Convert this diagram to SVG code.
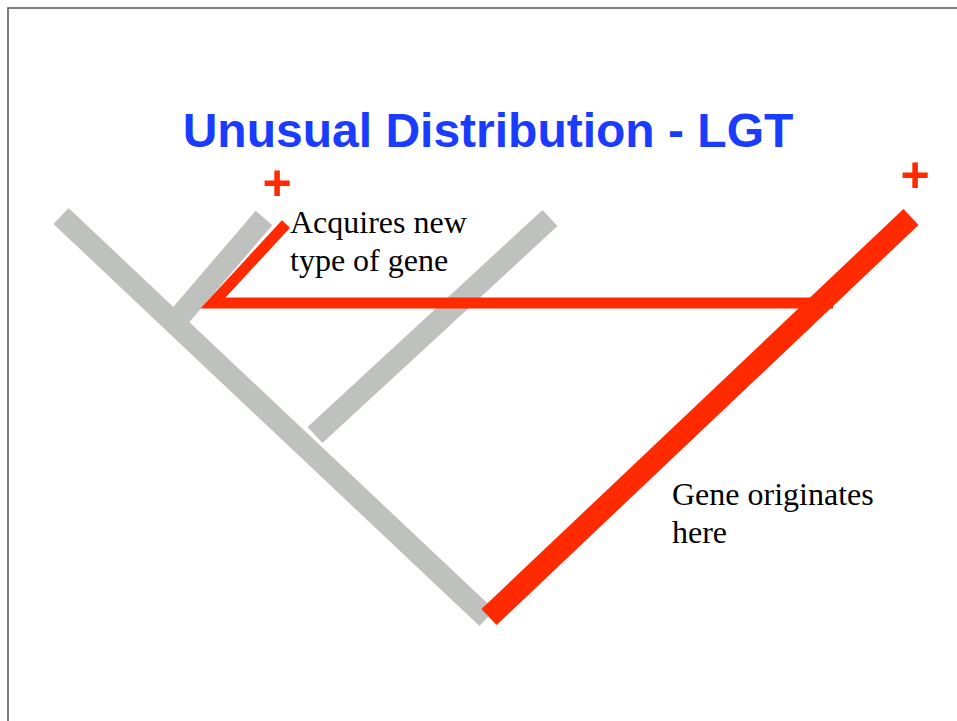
<svg xmlns="http://www.w3.org/2000/svg" width="957" height="721" viewBox="0 0 957 721">
<style>
.gray{stroke:#bfc1bf;stroke-width:22;fill:none;stroke-linecap:butt}
.red{stroke:#ff2a00;fill:none;stroke-linecap:butt;stroke-linejoin:miter}
.lbl{font-family:"Liberation Serif","Times New Roman",serif;font-size:32px;fill:#000}
.plus{font-family:"Liberation Sans",Arial,sans-serif;font-weight:bold;font-size:50px;fill:#ff2a00;text-anchor:middle}
</style>
<rect width="957" height="721" fill="#fff"/>
<path d="M8,721 V8 H957" fill="none" stroke="#555" stroke-width="1.5"/>
<g id="title"><text x="488" y="147" font-family="'Liberation Sans',Arial,sans-serif" font-weight="bold" font-size="48" fill="#1a3cff" text-anchor="middle">Unusual Distribution - LGT</text></g>
<g id="connectors">
<line id="trunk" class="gray" x1="61" y1="216" x2="487" y2="618"/>
<line id="branch-small" class="gray" x1="264" y1="218" x2="174" y2="323"/>
<line id="branch-inner" class="gray" x1="550" y1="218" x2="315" y2="435"/>
<path id="transfer" class="red" stroke-width="11" d="M286,224 L213,303 L833,303"/>
<line id="origin" class="red" stroke-width="22" x1="911" y1="217" x2="489" y2="617"/>
</g>
<g id="plus-left"><text class="plus" x="277" y="200">+</text></g>
<g id="plus-right"><text class="plus" x="915" y="192">+</text></g>
<g id="label-acquires"><text class="lbl" x="290" y="233">Acquires new</text><text class="lbl" x="290" y="271">type of gene</text></g>
<g id="label-origin"><text class="lbl" x="672" y="505">Gene originates</text><text class="lbl" x="672" y="543">here</text></g>
</svg>
